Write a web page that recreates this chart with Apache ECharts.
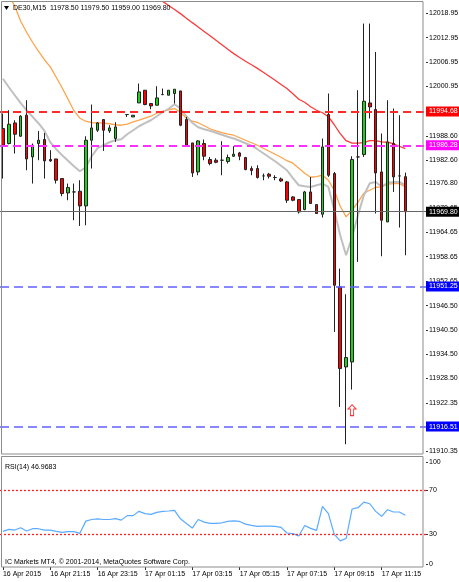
<!DOCTYPE html>
<html><head><meta charset="utf-8">
<script src="https://cdn.jsdelivr.net/npm/echarts@6/dist/echarts.min.js"></script>
<style>html,body{margin:0;padding:0;background:#fff}#c{width:459px;height:582px}</style>
</head><body><div id="c"></div>
<script>
// ---- data ----
const opens  = [11990.43,11986.71,11991.82,11988.52,11993.74,11983.39,11986.71,11987.71,11982.75,11982.89,11978.03,11974.46,11974.71,11974.88,11971.24,11987.53,11990.01,11992.66,11989.84,11987.95,null,11993.90,11993.31,11996.78,11999.93,11996.63,11996.21,11998.86,11998.69,11999.11,11999.76,11992.66,11986.86,11979.67,11986.71,11982.75,11982.57,11982.57,11982.25,11983.56,11984.38,11983.24,11980.51,11980.51,11978.68,11979.10,11978.28,11977.93,11977.19,11973.47,11972.82,11970.34,11974.71,11971.58,11969.18,11993.90,11979.27,11951.15,11931.31,11932.55,11983.39,11983.98,11996.78,11995.14,11979.67,11967.27,11986.71,11978.68,11978.50];
const closes = [11986.29,11991.50,11989.02,11993.49,11982.89,11986.29,11987.53,11982.40,11982.40,11977.61,11974.31,11975.80,11974.71,11971.24,11987.53,11990.58,11991.82,11990.01,11990.58,11990.83,null,11993.90,11993.73,11999.51,11996.38,11996.04,11998.02,11998.86,11999.93,12000.18,11991.25,11986.29,11979.42,11987.36,11983.56,11981.75,11982.07,11982.57,11983.24,11984.06,11983.56,11980.26,11980.01,11978.28,11978.68,11978.60,11978.28,11977.43,11972.65,11972.65,11969.75,11974.71,11971.83,11969.35,11985.87,11978.85,11951.57,11930.91,11933.64,11982.74,11983.39,11997.20,11995.79,11979.42,11967.69,11987.11,11978.43,11978.68,11969.80];
const highs  = [11994.15,11994.97,11992.49,11993.74,11997.45,11986.71,11989.84,11989.34,11985.05,11982.89,11978.03,11976.79,11976.79,11977.61,11988.52,11996.38,11992.07,11992.66,11991.25,11992.00,null,11993.90,11993.73,12001.59,11999.93,11996.78,12000.92,12000.35,11999.93,12000.18,11999.76,11993.31,11986.86,11987.53,11987.70,11983.39,11983.07,11987.28,11983.98,11986.04,11984.63,11983.39,11981.08,11981.33,11979.27,11979.42,11978.85,11978.28,11977.43,11973.64,11972.82,11974.96,11978.43,11971.58,11987.95,11999.11,11979.67,11955.71,11949.34,11983.56,11999.93,12016.47,12016.47,12009.43,11989.19,11997.45,11995.39,11993.73,11979.50];
const lows   = [11978.03,11986.50,11984.23,11988.40,11980.09,11976.79,11982.57,11978.03,11982.15,11976.79,11973.64,11972.65,11967.69,11966.28,11966.45,11980.51,11989.59,11984.88,11989.34,11987.11,null,11993.31,11993.31,11996.78,11996.21,11995.22,11996.21,11998.69,11998.69,11996.63,11991.00,11985.87,11978.43,11978.85,11982.57,11981.33,11981.83,11978.85,11981.75,11983.39,11982.57,11980.09,11978.85,11978.03,11977.61,11978.03,11977.61,11977.19,11971.98,11972.40,11969.35,11970.17,11971.83,11969.35,11968.36,11978.43,11939.99,11921.39,11912.14,11925.70,11957.35,11983.39,11992.91,11969.35,11958.76,11967.27,11974.71,11965.88,11959.00];
const maGray   = [12002.78,12000.67,11998.69,11996.71,11994.97,11993.36,11991.75,11989.89,11987.03,11985.30,11983.81,11982.45,11981.08,11979.84,11980.83,11983.56,11985.55,11986.29,11987.03,11987.53,11987.78,11989.02,11990.01,11991.00,11991.75,11992.49,11993.48,11994.47,11995.34,11996.46,11995.39,11993.48,11991.87,11990.75,11990.26,11989.89,11989.39,11988.89,11988.40,11987.95,11987.41,11986.79,11986.17,11985.30,11984.31,11983.31,11982.32,11981.21,11980.09,11978.11,11976.37,11976.12,11975.95,11976.37,11976.74,11975.95,11970.17,11963.97,11959.01,11963.47,11968.93,11973.89,11976.87,11977.19,11976.00,11976.99,11977.19,11977.19,11976.37];
const maOrange = [12026.71,12023.49,12020.76,12017.04,12014.31,12011.83,12009.60,12007.49,12005.71,12003.15,12000.55,11997.70,11994.85,11992.99,11992.24,11991.87,11991.82,11991.75,11991.62,11991.37,11991.25,11991.50,11992.07,11992.49,11992.99,11993.48,11994.23,11994.72,11995.09,11995.39,11994.47,11992.99,11992.24,11991.87,11991.13,11990.38,11989.84,11989.39,11989.02,11988.77,11988.15,11987.53,11986.91,11986.29,11985.55,11984.80,11984.06,11983.31,11982.45,11981.83,11980.59,11979.35,11978.35,11978.48,11978.85,11977.61,11975.13,11971.16,11968.51,11970.17,11972.15,11974.39,11975.13,11975.87,11975.95,11976.62,11976.79,11976.79,11975.95];
const maRed    = [null,null,null,null,null,null,null,null,null,null,null,null,null,null,null,null,null,null,null,null,null,null,null,null,12025.23,12023.99,12022.99,12021.95,12020.96,12019.94,12018.93,12017.79,12016.69,12015.60,12014.51,12013.42,12012.33,12011.21,12010.10,12009.01,12008.04,12007.12,12006.25,12005.34,12004.39,12003.40,12002.41,12001.37,12000.35,11999.06,11997.70,11996.95,11995.84,11994.97,11994.35,11993.36,11991.37,11989.19,11987.41,11986.79,11986.79,11986.96,11987.41,11987.41,11987.11,11987.03,11986.66,11986.04,11985.47];
const rsi14 = [32.4,34.2,33.6,35.7,32.7,34.8,34.8,33.6,33.6,32.4,31.5,32.1,32.1,30.6,41.7,43.2,43.8,43.2,43.2,44.0,42.6,46.7,46.7,50.6,48.5,47.9,49.7,50.6,50.9,51.5,43.8,39.6,35.4,43.2,40.8,39.6,39.6,40.2,41.4,42.0,41.4,39.0,37.8,36.9,37.2,37.2,36.9,36.0,30.9,30.3,28.2,37.8,35.1,33.3,55.1,48.5,29.7,23.8,25.9,52.7,53.9,59.0,57.5,50.6,46.1,52.1,50.0,50.0,46.9683];
const yTicks = [12018.95,12012.95,12006.95,12000.95,11988.60,11982.60,11976.80,11970.65,11964.65,11958.65,11952.65,11946.50,11940.50,11934.50,11928.50,11922.35,11910.35];
const rsiTickLabels = ['0','30','70','100'];
const xTickIdx = [0,8,16,24,32,40,48,56,64];
const xTickLabels = ['16 Apr 2015','16 Apr 21:15','16 Apr 23:15','17 Apr 01:15','17 Apr 03:15','17 Apr 05:15','17 Apr 07:15','17 Apr 09:15','17 Apr 11:15'];
const levels = [11994.68, 11986.28, 11969.80, 11951.25, 11916.51];
const arrowBar = 59, arrowPrice = 11920.6;
const header = 'DE30,M15  11978.50 11979.50 11959.00 11969.80';
const rsiTitle = 'RSI(14) 46.9683';
const copyright = 'IC Markets MT4, \u00a9 2001-2014, MetaQuotes Software Corp.';

// ---- build ----
const NCAT = 72;
const categories = [];
for (let i = 0; i < NCAT; i++) categories.push(String(i));
const candles = opens.map((o, i) => o == null ? '-' : [o, closes[i], lows[i], highs[i]]);

const FF = "'Liberation Sans',Arial,sans-serif";
const FS = 7;
const lvlStyle = [
  {line:'#ff2a2a', type:[8,5], w:1.8, bg:'#ff0000'},
  {line:'#ff30ff', type:[8,5], w:1.8, bg:'#ff00ff'},
  {line:'#666666', type:'solid', w:1.2, bg:'#000000'},
  {line:'#6060ff', type:[9,5], w:1.6, bg:'#0000ff'},
  {line:'#6060ff', type:[9,5], w:1.6, bg:'#0000ff'}
];
const levelSeries = levels.map((v, k) => ({
  type: 'line', xAxisIndex: 0, yAxisIndex: 0, data: [], silent: true, z: 2,
  color: lvlStyle[k].line,
  markLine: {silent: true, symbol: ['none', 'none'], animation: false,
    lineStyle: {color: lvlStyle[k].line, type: lvlStyle[k].type, width: lvlStyle[k].w, opacity: 1},
    emphasis: {disabled: true},
    label: {show: true, position: 'end', distance: 0, formatter: () => v.toFixed(2),
            backgroundColor: lvlStyle[k].bg, color: '#fff', padding: [2, 4, 1, 3],
            fontSize: FS, fontFamily: FF},
    data: [{yAxis: v}]}
}));
// RSI axis label positions (MT4 pulls the edge labels inside the pane)
const rsiLabelPos = [2.5, 30, 70, 95.5];

const chart = echarts.init(document.getElementById('c'), null, {renderer: 'canvas'});
chart.setOption({
  animation: false,
  backgroundColor: '#fff',
  grid: [
    {left: 0, top: 2, width: 426, height: 452, outerBoundsMode: 'none', containLabel: false},
    {left: 0, top: 457, width: 426, height: 110, outerBoundsMode: 'none', containLabel: false}
  ],
  xAxis: [
    {type: 'category', gridIndex: 0, data: categories, show: false},
    {type: 'category', gridIndex: 1, data: categories,
     axisLine: {show: false},
     axisTick: {show: true, alignWithLabel: true, length: 3, interval: i => xTickIdx.includes(i), lineStyle: {color: '#333'}},
     axisLabel: {interval: i => xTickIdx.includes(i), align: 'left', margin: 4, fontSize: FS, fontFamily: FF, color: '#000',
                 formatter: (v, i) => { const k = xTickIdx.indexOf(i); return k >= 0 ? xTickLabels[k] : ''; }},
     splitLine: {show: false}}
  ],
  yAxis: [
    {type: 'value', gridIndex: 0, position: 'right', min: 11909.72, max: 12021.81,
     axisLine: {show: false}, splitLine: {show: false},
     axisTick: {show: true, length: 2, customValues: yTicks, lineStyle: {color: '#333'}},
     axisLabel: {customValues: yTicks, formatter: v => v.toFixed(2), margin: 3, fontSize: FS, fontFamily: FF, color: '#000'}},
    {type: 'value', gridIndex: 1, position: 'right', min: 0, max: 100,
     axisLine: {show: false}, splitLine: {show: false},
     axisTick: {show: true, length: 2, customValues: rsiLabelPos, lineStyle: {color: '#333'}},
     axisLabel: {customValues: rsiLabelPos, margin: 3, fontSize: FS, fontFamily: FF, color: '#000',
                 formatter: v => rsiTickLabels[rsiLabelPos.indexOf(v)]}}
  ],
  series: [
    {type: 'line', xAxisIndex: 0, yAxisIndex: 0, data: maRed, symbol: 'none', silent: true,
     lineStyle: {color: '#ff3a3a', width: 1.3}, z: 1},
    {type: 'line', xAxisIndex: 0, yAxisIndex: 0, data: maOrange, symbol: 'none', silent: true,
     lineStyle: {color: '#ffa44a', width: 1.3}, z: 1},
    {type: 'line', xAxisIndex: 0, yAxisIndex: 0, data: maGray, symbol: 'none', silent: true,
     lineStyle: {color: '#c0c0c0', width: 2}, z: 1},
    ...levelSeries,
    {type: 'candlestick', xAxisIndex: 0, yAxisIndex: 0, data: candles, barWidth: 3, z: 3,
     itemStyle: {color: '#1ed01e', color0: '#ff0000', borderColor: '#222', borderColor0: '#222', borderWidth: 1},
     markPoint: {silent: true, data: [{coord: [String(arrowBar), arrowPrice],
       symbol: 'path://M4,0 L8,4 L5.6,4 L5.6,10 L2.4,10 L2.4,4 L0,4 Z', symbolSize: [8, 11],
       itemStyle: {color: '#ffffff', borderColor: '#ff3030', borderWidth: 1}, label: {show: false}}]}},
    {type: 'line', xAxisIndex: 1, yAxisIndex: 1, data: rsi14, symbol: 'none', silent: true,
     lineStyle: {color: '#5aabff', width: 1.2},
     markLine: {silent: true, symbol: ['none', 'none'], label: {show: false},
       data: [{yAxis: 70}, {yAxis: 30}], lineStyle: {color: '#ff2020', type: [2, 2], width: 1.3}}}
  ],
  graphic: [
    {type: 'rect', shape: {x: 1.5, y: 1.5, width: 421.5, height: 452.5}, style: {fill: 'none', stroke: '#8c8c8c', lineWidth: 1}, z: 50, silent: true},
    {type: 'rect', shape: {x: 1.5, y: 456.5, width: 421.5, height: 110.5}, style: {fill: 'none', stroke: '#8c8c8c', lineWidth: 1}, z: 50, silent: true},
    {type: 'polygon', shape: {points: [[4, 6], [9, 6], [6.5, 10]]}, style: {fill: '#000'}, z: 60, silent: true},
    {type: 'text', x: 13, y: 8, style: {text: header, font: FS + 'px ' + FF, fill: '#000', textVerticalAlign: 'middle'}, z: 60, silent: true},
    {type: 'text', x: 5, y: 467, style: {text: rsiTitle, font: FS + 'px ' + FF, fill: '#000', textVerticalAlign: 'middle'}, z: 60, silent: true},
    {type: 'text', x: 5, y: 562, style: {text: copyright, font: FS + 'px ' + FF, fill: '#000', textVerticalAlign: 'middle'}, z: 60, silent: true}
  ]
});
</script></body></html>
